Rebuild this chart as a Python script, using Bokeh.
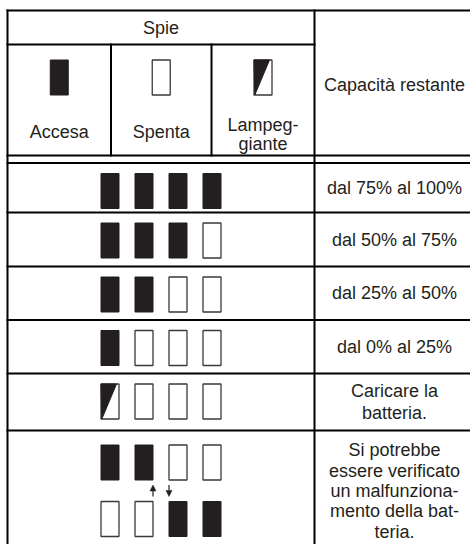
from bokeh.plotting import figure
from bokeh.models import Range1d, ColumnDataSource, Arrow, NormalHead
from bokeh.core.properties import value
from bokeh.embed import file_html
from bokeh.resources import INLINE

# ---------------- data ----------------
header_left = "Spie"
header_right = "Capacità restante"
legend_labels = ["Accesa", "Spenta", "Lampeg-\ngiante"]
legend_states = ["on", "off", "blink"]
capacity_labels = ["dal 75% al 100%", "dal 50% al 75%", "dal 25% al 50%",
                   "dal 0% al 25%", "Caricare la\nbatteria."]
lamp_states = [
    ["on", "on", "on", "on"],
    ["on", "on", "on", "off"],
    ["on", "on", "off", "off"],
    ["on", "off", "off", "off"],
    ["blink", "off", "off", "off"],
]
fault_label = "Si potrebbe\nessere verificato\nun malfunziona-\nmento della bat-\nteria."
fault_states_top = ["on", "on", "off", "off"]
fault_states_bottom = ["off", "off", "on", "on"]
fault_arrows = ["up", "down"]

# ---------------- layout (page pixels) ----------------
W, H = 470, 544
X_LEFT, X_SPLIT, X_RIGHT = 7, 314, 477
LEGEND_EDGES = [7, 110.5, 211, 314]
Y_TOP, Y_SPIE = 10, 44
Y_DOUBLE = [155, 162.5]
ROW_EDGES = [162.5, 212, 266, 319.5, 373, 430, 560]
LAMP_W, LAMP_H = 18, 35
LAMP_X0, LAMP_DX = 109.5, 34
LAMP_OFF_Y = 28          # lamp centre below row top
FAULT_DY = 56.5          # second lamp line of the fault row
RIGHT_CX = 394
FONT = value("Liberation Sans")
INK = "#231f20"

p = figure(width=W, height=H, output_backend="svg", toolbar_location=None,
           x_range=Range1d(0, W), y_range=Range1d(H, 0),
           x_axis_location=None, y_axis_location=None, min_border=0,
           outline_line_color=None, background_fill_color="white",
           border_fill_color="white")
p.grid.visible = False

# ---------------- table lines ----------------
x0s, y0s, x1s, y1s = [], [], [], []
def seg(a, b, c, d):
    x0s.append(a); y0s.append(b); x1s.append(c); y1s.append(d)

seg(X_LEFT, Y_TOP, X_RIGHT, Y_TOP)
seg(X_LEFT, Y_TOP, X_LEFT, ROW_EDGES[-1])
seg(X_SPLIT, Y_TOP, X_SPLIT, ROW_EDGES[-1])
seg(X_RIGHT, Y_TOP, X_RIGHT, ROW_EDGES[-1])
seg(X_LEFT, Y_SPIE, X_SPLIT, Y_SPIE)
for xe in LEGEND_EDGES[1:-1]:
    seg(xe, Y_SPIE, xe, Y_DOUBLE[0])
for yd in Y_DOUBLE:
    seg(X_LEFT, yd, X_RIGHT, yd)
for ye in ROW_EDGES[1:-1]:
    seg(X_LEFT, ye, X_RIGHT, ye)
p.segment(x0=x0s, y0=y0s, x1=x1s, y1=y1s, line_color="black",
          line_width=2, line_cap="square")

# ---------------- lamps ----------------
lamps = []  # (cx, cy, state)
legend_cx = [(LEGEND_EDGES[i] + LEGEND_EDGES[i + 1]) / 2 for i in range(3)]
for cx, st in zip(legend_cx, legend_states):
    lamps.append((cx, 77, st))
for r, states in enumerate(lamp_states):
    cy = ROW_EDGES[r] + LAMP_OFF_Y
    for i, st in enumerate(states):
        lamps.append((LAMP_X0 + i * LAMP_DX, cy, st))
fr_top = ROW_EDGES[5] + 32
for i, st in enumerate(fault_states_top):
    lamps.append((LAMP_X0 + i * LAMP_DX, fr_top, st))
for i, st in enumerate(fault_states_bottom):
    lamps.append((LAMP_X0 + i * LAMP_DX, fr_top + FAULT_DY, st))

def quads(sel):
    L = [c[0] - LAMP_W / 2 for c in lamps if c[2] in sel]
    R = [c[0] + LAMP_W / 2 for c in lamps if c[2] in sel]
    T = [c[1] - LAMP_H / 2 for c in lamps if c[2] in sel]
    B = [c[1] + LAMP_H / 2 for c in lamps if c[2] in sel]
    return ColumnDataSource(dict(left=L, right=R, top=T, bottom=B))

p.quad(left="left", right="right", top="top", bottom="bottom",
       source=quads({"off", "blink"}), fill_color="white",
       line_color="#3a3a3a", line_width=1.3)
p.quad(left="left", right="right", top="top", bottom="bottom",
       source=quads({"on"}), fill_color=INK, line_color=INK, line_width=1)
txs, tys = [], []
for cx, cy, st in lamps:
    if st == "blink":
        l, r = cx - LAMP_W / 2, cx + LAMP_W / 2
        t, b = cy - LAMP_H / 2, cy + LAMP_H / 2
        txs.append([l, r - 2.5, l + 0.8])
        tys.append([t, t, b])
p.patches(xs=txs, ys=tys, fill_color=INK, line_color=INK, line_width=1)

# arrows of the fault row
ay0 = fr_top + LAMP_H / 2 + 5
ay1 = fr_top + FAULT_DY - LAMP_H / 2 - 5
for i, d in enumerate(fault_arrows):
    ax = LAMP_X0 + (1 + i) * LAMP_DX + (LAMP_W / 2 if i == 0 else -LAMP_W / 2)
    ys_, ye_ = (ay1, ay0) if d == "up" else (ay0, ay1)
    p.add_layout(Arrow(x_start=ax, y_start=ys_, x_end=ax, y_end=ye_,
                       line_width=1.2, line_color=INK,
                       end=NormalHead(size=6, fill_color=INK, line_color=INK,
                                      line_width=0.5)))

# ---------------- texts ----------------
def txt(x, y, s, lh=1.2):
    p.text(x=[x], y=[y], text=[s], text_font=FONT, text_font_size="18px",
           text_color=INK, text_align="center", text_baseline="middle",
           text_line_height=lh)

txt((X_LEFT + X_SPLIT) / 2, (Y_TOP + Y_SPIE) / 2, header_left)
txt(RIGHT_CX, 84.5, header_right)
txt(legend_cx[0], 131.5, legend_labels[0])
txt(legend_cx[1], 131.5, legend_labels[1])
txt(legend_cx[2], 134, legend_labels[2], lh=0.97)
for r, lab in enumerate(capacity_labels):
    txt(RIGHT_CX, (ROW_EDGES[r] + ROW_EDGES[r + 1]) / 2, lab, lh=1.075)
txt(RIGHT_CX, 490.5, fault_label, lh=1.02)

open("out.html", "w").write(file_html(p, INLINE))
